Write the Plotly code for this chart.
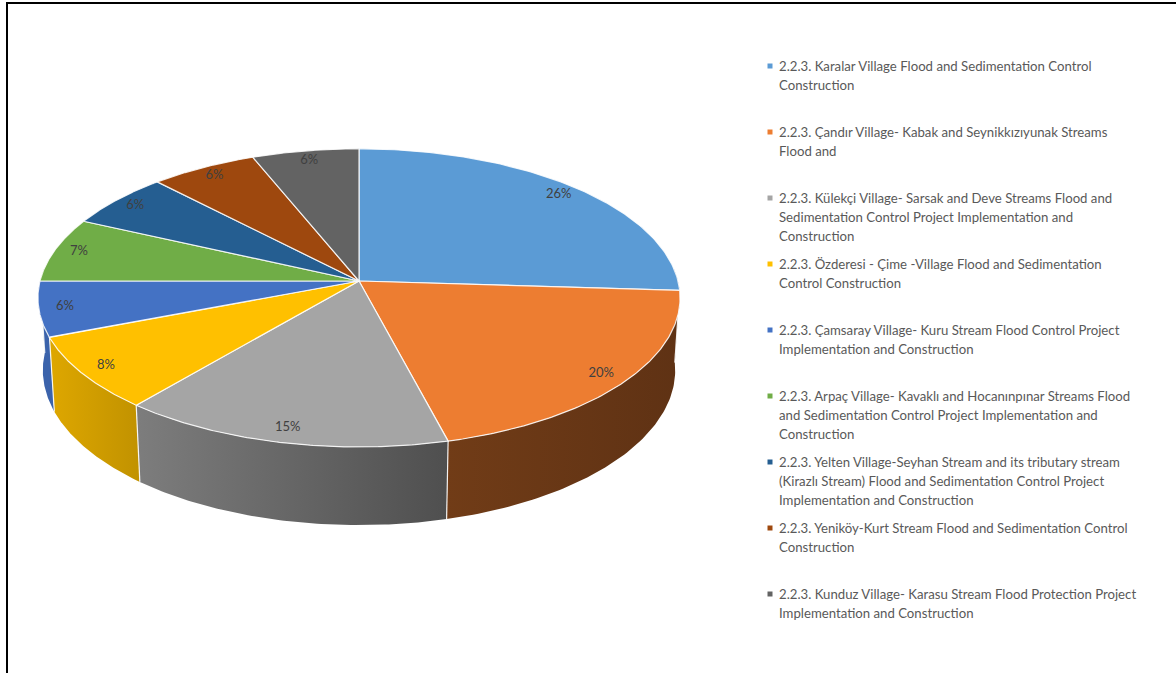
import numpy as np
import plotly.graph_objects as go

# ---- data -------------------------------------------------------------
categories = [
    "2.2.3. Karalar Village Flood and Sedimentation Control<br>Construction",
    "2.2.3. Çandır Village- Kabak and Seynikkızıyunak Streams<br>Flood and",
    "2.2.3. Külekçi Village- Sarsak and Deve Streams Flood and<br>Sedimentation Control Project Implementation and<br>Construction",
    "2.2.3. Özderesi - Çime -Village Flood and Sedimentation<br>Control Construction",
    "2.2.3. Çamsaray Village- Kuru Stream Flood Control Project<br>Implementation and Construction",
    "2.2.3. Arpaç Village- Kavaklı and Hocanınpınar Streams Flood<br>and Sedimentation Control Project Implementation and<br>Construction",
    "2.2.3. Yelten Village-Seyhan Stream and its tributary stream<br>(Kirazlı Stream) Flood and Sedimentation Control Project<br>Implementation and Construction",
    "2.2.3. Yeniköy-Kurt Stream Flood and Sedimentation Control<br>Construction",
    "2.2.3. Kunduz Village- Karasu Stream Flood Protection Project<br>Implementation and Construction",
]
shares = [26, 20, 15, 8, 6, 7, 6, 6, 6]

# ---- style ------------------------------------------------------------
colors = ["#5B9BD5", "#ED7D31", "#A5A5A5", "#FFC000", "#4472C4",
          "#70AD47", "#255E91", "#9E480E", "#636363"]
FONT = "Lato, 'Open Sans', sans-serif"
LABEL_COLOR = "#404040"
LEGEND_COLOR = "#595959"

W, H = 1176, 673
CX, CY, R = 359, 281, 319          # pie centre and radius (px)
SIN_T = 0.4613                      # view tilt
COS_T = np.sqrt(1 - SIN_T ** 2)
PERSP = 0.1277                      # perspective strength
DEPTH = 0.258                       # slab thickness (radius units)
LABEL_R = 0.92


def project(theta_deg, r=1.0, h=0.0):
    """Project a point of the pie slab (angle clockwise from 12 o'clock)."""
    th = np.radians(theta_deg)
    x = r * np.sin(th)
    z = r * np.cos(th)
    d = z * COS_T - h * SIN_T
    w = 1 + PERSP * d
    return CX + R * x / w, CY - R * (z * SIN_T + h * COS_T) / w


def shade(hex_color, f):
    c = hex_color.lstrip("#")
    rgb = [int(c[i:i + 2], 16) for i in (0, 2, 4)]
    return "rgb({},{},{})".format(*[int(round(v * f)) for v in rgb])


def side_light(theta):
    return float(np.clip(0.48 + 0.0052 * (theta - 166), 0.40, 0.87))


total = sum(shares)
ends = np.cumsum(shares) / total * 360.0
starts = np.concatenate([[0.0], ends[:-1]])

fig = go.Figure()

# ---- side walls (front half only, back to front) ----------------------
VIS_A, VIS_B = 85.0, 275.0
sides = []
for i, (a, b) in enumerate(zip(starts, ends)):
    lo, hi = max(a, VIS_A), min(b, VIS_B)
    if hi <= lo:
        continue
    sides.append((np.cos(np.radians((lo + hi) / 2)), i, lo, hi))
sides.sort(reverse=True)
for _, i, lo, hi in sides:
    th = np.linspace(lo, hi, 80)
    tx, ty = project(th)
    bx, by = project(th[::-1], h=-DEPTH)
    xs = np.concatenate([tx, bx, tx[:1]])
    ys = np.concatenate([ty, by, ty[:1]])
    # screen-left end is the larger angle on the front half
    left_c = shade(colors[i], side_light(hi))
    right_c = shade(colors[i], side_light(lo))
    fig.add_trace(go.Scatter(
        x=xs, y=ys, mode="lines", fill="toself",
        line=dict(width=0, color=right_c),
        fillgradient=dict(type="horizontal",
                          colorscale=[[0, left_c], [1, right_c]]),
        hoverinfo="skip", showlegend=False))

# seams between walls
for b in ends[:-1]:
    if VIS_A < b < VIS_B:
        x0, y0 = project(b)
        x1, y1 = project(b, h=-DEPTH)
        fig.add_trace(go.Scatter(
            x=[x0, x1], y=[y0, y1], mode="lines",
            line=dict(color="rgba(255,255,255,0.9)", width=1.2),
            hoverinfo="skip", showlegend=False))

# ---- top faces ---------------------------------------------------------
for i, (a, b) in enumerate(zip(starts, ends)):
    th = np.linspace(a, b, 120)
    ax, ay = project(th)
    xs = np.concatenate([[CX], ax, [CX]])
    ys = np.concatenate([[CY], ay, [CY]])
    fig.add_trace(go.Scatter(
        x=xs, y=ys, mode="lines", fill="toself", fillcolor=colors[i],
        line=dict(color="rgba(255,255,255,0.85)", width=1.2),
        name=categories[i].replace("<br>", " "),
        hoverinfo="name", showlegend=False))

# ---- percentage labels -------------------------------------------------
mids = (starts + ends) / 2
lx, ly = project(mids, r=LABEL_R)
fig.add_trace(go.Scatter(
    x=lx, y=ly, mode="text", text=[f"{v}%" for v in shares],
    textfont=dict(family=FONT, size=13, color=LABEL_COLOR),
    hoverinfo="skip", showlegend=False))

# ---- legend ------------------------------------------------------------
LEG_X, LEG_Y0, LEG_STEP, LINE_H = 770, 66, 66, 19
leg_y = [LEG_Y0 + k * LEG_STEP for k in range(len(categories))]
fig.add_trace(go.Scatter(
    x=[LEG_X] * len(categories), y=leg_y, mode="markers",
    marker=dict(symbol="square", size=5, color=colors, line=dict(width=0)),
    hoverinfo="skip", showlegend=False))
for k, name in enumerate(categories):
    for j, line in enumerate(name.split("<br>")):
        fig.add_annotation(
            x=LEG_X + 7, y=leg_y[k] + j * LINE_H, text=line,
            xref="x", yref="y", xanchor="left", yanchor="middle",
            showarrow=False,
            font=dict(family=FONT, size=13.2, color=LEGEND_COLOR))

# ---- frame -------------------------------------------------------------
fig.add_shape(type="rect", xref="x", yref="y", x0=7, y0=3, x1=W + 20, y1=H + 20,
              line=dict(color="#000000", width=2), layer="above")

fig.update_layout(
    width=W, height=H, margin=dict(l=0, r=0, t=0, b=0),
    paper_bgcolor="white", plot_bgcolor="white",
    xaxis=dict(range=[0, W], visible=False, fixedrange=True),
    yaxis=dict(range=[H, 0], visible=False, fixedrange=True),
    showlegend=False,
)

fig.write_html("out.html")
